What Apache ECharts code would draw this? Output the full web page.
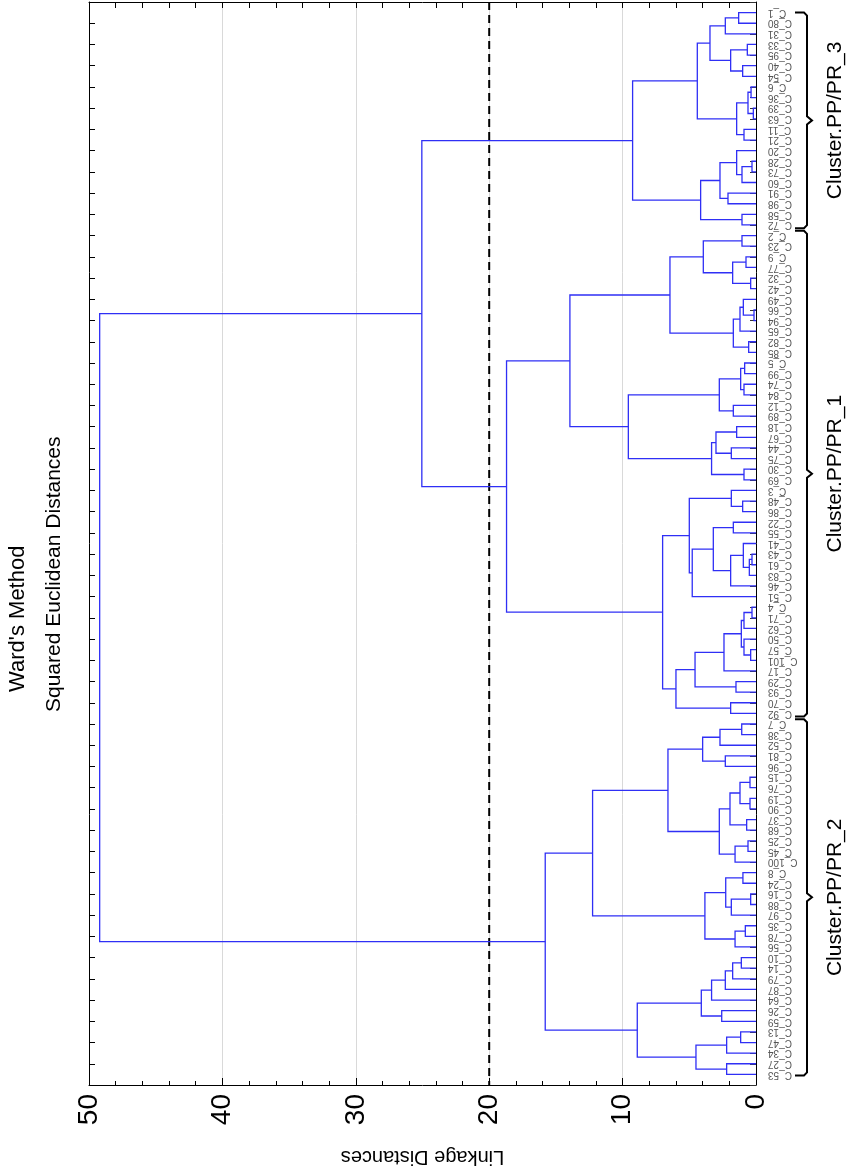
<!DOCTYPE html>
<html><head><meta charset="utf-8">
<script src="https://cdn.jsdelivr.net/npm/echarts@6/dist/echarts.min.js"></script>
<style>html,body{margin:0;padding:0;background:#fff}#c{width:849px;height:1173px}</style>
</head><body><div id="c"></div>
<script>
// ---- data ----
const leaves = [
 'C_1','C_80','C_31','C_33','C_95','C_40','C_54','C_6','C_36','C_39','C_63','C_11','C_21',
 'C_20','C_28','C_73','C_60','C_91','C_98','C_58','C_72',
 'C_2','C_23','C_9','C_77','C_32','C_42','C_49','C_66','C_94','C_65','C_82','C_85',
 'C_5','C_99','C_74','C_84','C_12','C_89','C_18','C_67','C_44','C_75','C_30','C_69',
 'C_3','C_48','C_86','C_22','C_55','C_41','C_43','C_61','C_83','C_46','C_51',
 'C_4','C_71','C_62','C_50','C_57','C_101','C_17','C_29','C_93','C_70','C_92',
 'C_7','C_38','C_52','C_81','C_96','C_15','C_76','C_19','C_90','C_37','C_68','C_25','C_45','C_100',
 'C_8','C_24','C_16','C_88','C_97','C_35','C_78','C_56',
 'C_10','C_14','C_79','C_87','C_64','C_26','C_59','C_13','C_47','C_34','C_27','C_53'
];
// merges: [left, right, linkage distance]; strings = leaves, numbers = earlier merge index
const merges = [
 ['C_1','C_80',1.3],[0,'C_31',2.3],['C_33','C_95',0.65],['C_40','C_54',1.0],[2,3,1.9],[1,4,3.45],
 ['C_6','C_36',0.37],['C_39','C_63',0.2],[6,7,0.6],['C_11','C_21',0.9],[8,9,1.45],[5,10,4.4],
 ['C_28','C_73',0.3],[12,'C_60',1.05],['C_20',13,1.45],['C_91','C_98',2.1],[14,15,2.7],
 ['C_58','C_72',1.05],[16,17,4.15],[11,18,9.25],
 ['C_2','C_23',1.05],['C_9','C_77',0.75],['C_32','C_42',0.4],[21,22,1.75],[20,23,3.95],
 ['C_66','C_94',0.15],['C_49',25,0.95],[26,'C_65',1.2],['C_82','C_85',0.55],[27,28,1.7],[24,29,6.45],
 ['C_5','C_99',0.85],['C_74','C_84',0.9],[31,32,1.15],['C_12','C_89',1.7],[33,34,2.75],
 ['C_18','C_67',1.45],['C_44','C_75',1.85],[36,37,3.0],['C_30','C_69',0.9],[38,39,3.33],[35,40,9.57],
 [30,41,13.95],
 ['C_48','C_86',1.0],['C_3',43,1.85],['C_22','C_55',1.7],['C_43','C_61',0.3],[46,'C_83',0.5],
 ['C_41',47,0.95],[48,'C_46',1.9],[45,49,3.2],[50,'C_51',4.78],[44,51,5.0],
 ['C_4','C_71',0.3],[53,'C_62',0.9],['C_57','C_101',0.4],['C_50',55,0.9],[54,56,1.1],[57,'C_17',2.4],
 ['C_29','C_93',1.5],[58,59,4.57],['C_70','C_92',1.9],[60,61,6.0],[52,62,7.0],[42,63,18.7],
 ['C_7','C_38',1.07],[65,'C_52',2.7],['C_81','C_96',2.3],[66,67,4.0],['C_15','C_76',0.45],
 ['C_19','C_90',0.45],[69,70,1.2],['C_37','C_68',0.7],[71,72,1.95],['C_25','C_45',0.6],
 [74,'C_100',1.57],[73,75,2.75],[68,76,6.6],['C_8','C_24',0.98],['C_16','C_88',0.4],[79,'C_97',1.85],
 [78,80,2.27],['C_35','C_78',0.8],[82,'C_56',1.57],[81,83,3.83],[77,84,12.25],
 ['C_10','C_14',1.1],[86,'C_79',1.75],[87,'C_87',2.3],[88,'C_64',3.33],['C_26','C_59',2.57],
 [89,90,4.1],['C_13','C_47',1.15],[92,'C_34',2.2],['C_27','C_53',2.2],[93,94,4.5],[91,95,8.9],
 [85,96,15.8],
 [19,64,25.05],[98,97,49.2]
];
const distanceMin = 0, distanceMax = 50, distanceStep = 10;
const cutoff = 20;
const clusterNames = ['Cluster.PP/PR_3','Cluster.PP/PR_1','Cluster.PP/PR_2'];
const clusterFirst = ['C_1','C_2','C_7'];
const clusterLast = ['C_72','C_92','C_53'];
const titleLines = ["Ward's Method", 'Squared Euclidean Distances'];
const axisTitle = 'Linkage Distances';

// ---- derived layout from data ----
const pos = {}; leaves.forEach((l, i) => pos[l] = i);
const nodeY = [], nodeH = [];
const yOf = r => typeof r === 'number' ? nodeY[r] : pos[r];
const hOf = r => typeof r === 'number' ? nodeH[r] : 0;
const segs = merges.map((m, k) => {
  const ya = yOf(m[0]), yb = yOf(m[1]);
  nodeY[k] = (ya + yb) / 2; nodeH[k] = m[2];
  return [m[2], ya, yb, hOf(m[0]), hOf(m[1])];
});
const clusterRows = clusterNames.map((n, i) => [pos[clusterFirst[i]], pos[clusterLast[i]], i]);

const FF = '"Liberation Sans", Arial, sans-serif';
const chart = echarts.init(document.getElementById('c'), null, {renderer: 'canvas'});
const black = '#000';
chart.setOption({
  animation: false,
  backgroundColor: '#fff',
  textStyle: {fontFamily: FF},
  grid: {left: 89, right: 93, top: 2, bottom: 88, containLabel: false},
  xAxis: [{
    type: 'value', min: distanceMin, max: distanceMax, interval: distanceStep, inverse: true, position: 'bottom',
    axisLine: {show: true, onZero: false, lineStyle: {color: black, width: 1}},
    axisTick: {show: true, inside: true, length: 7, lineStyle: {color: black}},
    minorTick: {show: true, splitNumber: 5, length: 4, lineStyle: {color: black}},
    axisLabel: {rotate: 90, fontSize: 28, color: black, margin: 9, fontFamily: FF},
    splitLine: {show: true, lineStyle: {color: '#d9d9d9', width: 1}},
    name: axisTitle, nameLocation: 'middle', nameRotate: 180, nameGap: 62,
    nameTextStyle: {fontSize: 20, color: black, fontFamily: FF}
  }, {
    type: 'value', min: distanceMin, max: distanceMax, interval: 2, inverse: true, position: 'top',
    axisLine: {show: true, onZero: false, lineStyle: {color: black, width: 1}},
    axisTick: {show: true, inside: true, length: 6, lineStyle: {color: black}},
    axisLabel: {show: false}, splitLine: {show: false}
  }],
  yAxis: [{
    type: 'value', min: -1, max: leaves.length, interval: 1, inverse: true, position: 'right',
    axisLine: {show: true, onZero: false, lineStyle: {color: black, width: 1}},
    axisTick: {show: true, inside: true, length: 6, lineStyle: {color: '#333'}},
    axisLabel: {rotate: 180, fontSize: 10, color: '#555', margin: 12, fontFamily: FF,
      formatter: v => leaves[v] || ''},
    splitLine: {show: false}
  }, {
    type: 'value', min: -1, max: leaves.length, interval: 2, inverse: true, position: 'left',
    axisLine: {show: true, onZero: false, lineStyle: {color: black, width: 1}},
    axisTick: {show: true, inside: true, length: 6, lineStyle: {color: black}},
    axisLabel: {show: false}, splitLine: {show: false}
  }],
  graphic: [
    {type: 'text', x: 18, y: 692, rotation: Math.PI / 2,
     style: {text: titleLines[0], font: '22px ' + FF, fill: black, textAlign: 'left', align: 'left', textVerticalAlign: 'middle', verticalAlign: 'middle'}},
    {type: 'text', x: 54, y: 712, rotation: Math.PI / 2,
     style: {text: titleLines[1], font: '21px ' + FF, fill: black, textAlign: 'left', align: 'left', textVerticalAlign: 'middle', verticalAlign: 'middle'}}
  ],
  series: [{
    type: 'line', xAxisIndex: 0, yAxisIndex: 0, silent: true, z: 3,
    data: [[cutoff, -1], [cutoff, leaves.length]], symbol: 'none',
    lineStyle: {color: black, width: 2, type: [8, 5]}
  }, {
    type: 'custom', xAxisIndex: 0, yAxisIndex: 0, silent: true, z: 4, clip: false,
    data: segs,
    renderItem: (params, api) => {
      const h = api.value(0), ya = api.value(1), yb = api.value(2), ha = api.value(3), hb = api.value(4);
      const pts = [api.coord([ha, ya]), api.coord([h, ya]), api.coord([h, yb]), api.coord([hb, yb])];
      return {type: 'polyline', shape: {points: pts}, style: {stroke: '#2f2ff5', lineWidth: 1.3, fill: null}};
    }
  }, {
    type: 'custom', xAxisIndex: 0, yAxisIndex: 0, silent: true, z: 5, clip: false,
    data: clusterRows,
    renderItem: (params, api) => {
      const f = api.value(0), l = api.value(1), i = api.value(2);
      const ax = api.coord([0, 0])[0];
      const top = api.coord([0, f === 0 ? f : f - 0.45])[1];
      const bot = api.coord([0, l === leaves.length - 1 ? l + 0.1 : l + 0.3])[1];
      const mid = (top + bot) / 2;
      const x0 = ax + 39, x1 = ax + 51;
      return {type: 'group', children: [
        {type: 'polyline', shape: {points: [[x0, top], [x1 - 3, top], [x1, top + 3], [x1, mid - 4], [x1 + 5, mid], [x1, mid + 4], [x1, bot - 3], [x1 - 3, bot], [x0, bot]]},
         style: {stroke: black, lineWidth: 2, fill: null}},
        {type: 'text', x: ax + 79, y: mid, rotation: Math.PI / 2,
         style: {text: clusterNames[i], font: '21px ' + FF, fill: black, textAlign: 'center', align: 'center', textVerticalAlign: 'middle', verticalAlign: 'middle'}}
      ]};
    }
  }]
});
</script></body></html>
